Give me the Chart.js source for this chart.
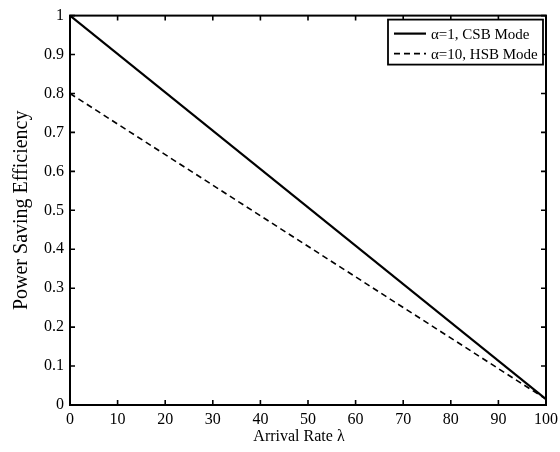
<!DOCTYPE html>
<html>
<head>
<meta charset="utf-8">
<script src="https://cdn.jsdelivr.net/npm/chart.js@4.4.0/dist/chart.umd.min.js"></script>
<style>
  html, body { margin: 0; padding: 0; background: #fff; }
  canvas { display: block; }
</style>
</head>
<body>
<canvas id="chart" width="560" height="452"></canvas>
<script>
// Arrival rate and efficiency for both modes
const arrivalRate = [0, 100]
const csbEfficiency = [1.0, 0.015]
const hsbEfficiency = [0.8, 0.015]
const seriesNames = ['\u03b1=1, CSB Mode', '\u03b1=10, HSB Mode']
const xTicks = [0, 10, 20, 30, 40, 50, 60, 70, 80, 90, 100]
const yTicks = [0, 0.1, 0.2, 0.3, 0.4, 0.5, 0.6, 0.7, 0.8, 0.9, 1]
const xTitle = 'Arrival Rate \u03bb'

const serif = "'Liberation Serif', 'DejaVu Serif', serif"

// Box around the plot with inward tick marks on all four sides
const boxTicks = {
  id: 'boxTicks',
  afterDatasetsDraw(chart) {
    const { ctx, chartArea: a, scales } = chart
    ctx.save()
    ctx.strokeStyle = '#000'
    ctx.lineWidth = 2
    ctx.strokeRect(a.left, a.top, a.right - a.left, a.bottom - a.top)
    ctx.lineWidth = 1.6
    const len = 5
    ctx.beginPath()
    xTicks.forEach(v => {
      const x = scales.x.getPixelForValue(v)
      ctx.moveTo(x, a.bottom); ctx.lineTo(x, a.bottom - len)
      ctx.moveTo(x, a.top); ctx.lineTo(x, a.top + len)
    })
    yTicks.forEach(v => {
      const y = scales.y.getPixelForValue(v)
      ctx.moveTo(a.left, y); ctx.lineTo(a.left + len, y)
      ctx.moveTo(a.right, y); ctx.lineTo(a.right - len, y)
    })
    ctx.stroke()

    // x axis title, sitting a little left of the axis centre
    ctx.fillStyle = '#000'
    ctx.font = '16px ' + serif
    ctx.textAlign = 'center'
    ctx.textBaseline = 'middle'
    ctx.fillText(xTitle, (a.left + a.right) / 2 - 9, a.bottom + 32)
    ctx.restore()
  }
}

// Boxed legend in the upper right corner
const boxLegend = {
  id: 'boxLegend',
  afterDraw(chart) {
    const { ctx, chartArea: a } = chart
    const w = 155, h = 45
    const x0 = a.right - w - 3, y0 = a.top + 4
    ctx.save()
    ctx.fillStyle = '#fff'
    ctx.fillRect(x0, y0, w, h)
    ctx.strokeStyle = '#000'
    ctx.lineWidth = 1.8
    ctx.strokeRect(x0, y0, w, h)
    ctx.font = '15px ' + serif
    ctx.textBaseline = 'middle'
    chart.data.datasets.forEach((ds, i) => {
      const y = y0 + 14 + i * 20
      ctx.beginPath()
      ctx.lineWidth = ds.borderWidth
      ctx.setLineDash(ds.borderDash || [])
      ctx.moveTo(x0 + 6, y); ctx.lineTo(x0 + 38, y)
      ctx.stroke()
      ctx.setLineDash([])
      ctx.fillStyle = '#000'
      ctx.fillText(ds.label, x0 + 43, y + 1)
    })
    ctx.restore()
  }
}

new Chart(document.getElementById('chart'), {
  type: 'line',
  data: {
    datasets: [
      {
        label: seriesNames[0],
        data: arrivalRate.map((x, i) => ({ x, y: csbEfficiency[i] })),
        borderColor: '#000',
        borderWidth: 2.2,
        pointRadius: 0,
        fill: false
      },
      {
        label: seriesNames[1],
        data: arrivalRate.map((x, i) => ({ x, y: hsbEfficiency[i] })),
        borderColor: '#000',
        borderWidth: 1.6,
        borderDash: [6, 4],
        pointRadius: 0,
        fill: false
      }
    ]
  },
  options: {
    responsive: false,
    animation: false,
    layout: { padding: { top: 14, right: 14, left: 0, bottom: 0 } },
    plugins: {
      legend: { display: false },
      tooltip: { enabled: false }
    },
    scales: {
      x: {
        type: 'linear',
        min: 0,
        max: 100,
        afterBuildTicks: s => { s.ticks = xTicks.map(v => ({ value: v })) },
        afterFit: s => { s.height = 47; s.paddingRight = 0; s.paddingLeft = 0 },
        grid: { display: false, drawTicks: false },
        border: { display: false },
        ticks: {
          color: '#000',
          padding: 5,
          maxRotation: 0,
          font: { family: serif, size: 16 }
        }
      },
      y: {
        type: 'linear',
        min: 0,
        max: 1,
        afterBuildTicks: s => { s.ticks = yTicks.map(v => ({ value: v })) },
        afterFit: s => { s.width = 70 },
        grid: { display: false, drawTicks: false },
        border: { display: false },
        ticks: {
          color: '#000',
          padding: 6,
          font: { family: serif, size: 16 },
          callback: v => String(Math.round(v * 10) / 10)
        },
        title: {
          display: true,
          text: 'Power Saving Efficiency',
          color: '#000',
          padding: { top: 10, bottom: 0 },
          font: { family: serif, size: 20 }
        }
      }
    }
  },
  plugins: [boxTicks, boxLegend]
})
</script>
</body>
</html>
